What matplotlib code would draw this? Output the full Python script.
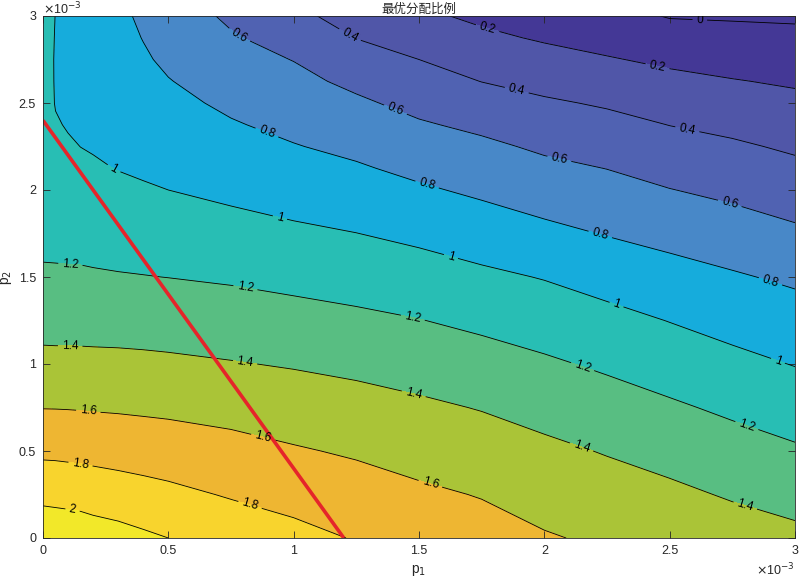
import numpy as np
import matplotlib
matplotlib.use("Agg")
import matplotlib.pyplot as plt

plt.rcParams["font.family"] = ["Liberation Sans", "Noto Sans CJK SC", "DejaVu Sans"]

# grid nodes, both axes in units of 1e-3
p1_nodes = [0, 0.05, 0.1, 0.15, 0.2, 0.3, 0.4, 0.5, 0.75, 1.0, 1.25, 1.5, 1.75, 2.0, 2.25, 2.5, 2.75, 3.0]
p2_nodes = [0, 0.25, 0.5, 0.75, 1.0, 1.25, 1.5, 1.75, 2.0, 2.125, 2.25, 2.375, 2.5, 2.625, 2.75, 2.875, 3.0]

# optimal allocation ratio (rows: p2, columns: p1)
ratio = [
    [2.15, 2.14, 2.13, 2.12, 2.095, 2.07, 2.033, 2.00, 1.92, 1.856, 1.789, 1.731, 1.674, 1.616, 1.57, 1.528, 1.486, 1.444],
    [1.947, 1.94, 1.933, 1.924, 1.913, 1.89, 1.867, 1.844, 1.785, 1.736, 1.684, 1.632, 1.591, 1.527, 1.48, 1.438, 1.383, 1.334],
    [1.762, 1.76, 1.754, 1.748, 1.74, 1.727, 1.713, 1.70, 1.662, 1.617, 1.578, 1.532, 1.491, 1.439, 1.389, 1.336, 1.277, 1.223],
    [1.595, 1.594, 1.592, 1.589, 1.585, 1.579, 1.571, 1.563, 1.537, 1.501, 1.47, 1.432, 1.391, 1.338, 1.282, 1.226, 1.167, 1.109],
    [1.452, 1.45, 1.45, 1.449, 1.447, 1.445, 1.439, 1.432, 1.41, 1.386, 1.357, 1.321, 1.277, 1.227, 1.172, 1.112, 1.05, 0.993],
    [1.332, 1.331, 1.331, 1.33, 1.328, 1.324, 1.32, 1.313, 1.293, 1.267, 1.238, 1.205, 1.16, 1.111, 1.056, 0.995, 0.935, 0.884],
    [1.226, 1.225, 1.223, 1.222, 1.218, 1.211, 1.205, 1.198, 1.178, 1.149, 1.12, 1.084, 1.037, 0.991, 0.928, 0.871, 0.82, 0.768],
    [1.15, 1.147, 1.145, 1.143, 1.135, 1.122, 1.11, 1.099, 1.067, 1.033, 1.002, 0.959, 0.904, 0.846, 0.791, 0.742, 0.691, 0.632],
    [1.12, 1.085, 1.075, 1.071, 1.058, 1.035, 1.015, 1.0, 0.961, 0.92, 0.88, 0.824, 0.768, 0.708, 0.662, 0.605, 0.558, 0.503],
    [1.105, 1.057, 1.045, 1.03, 1.018, 0.995, 0.98, 0.961, 0.91, 0.864, 0.82, 0.756, 0.701, 0.641, 0.597, 0.536, 0.492, 0.438],
    [1.09, 1.035, 1.016, 0.999, 0.989, 0.969, 0.946, 0.922, 0.864, 0.809, 0.757, 0.687, 0.637, 0.571, 0.526, 0.467, 0.426, 0.374],
    [1.08, 1.012, 0.99, 0.981, 0.967, 0.939, 0.911, 0.883, 0.815, 0.755, 0.694, 0.619, 0.562, 0.497, 0.454, 0.397, 0.356, 0.309],
    [1.07, 0.993, 0.978, 0.964, 0.948, 0.915, 0.883, 0.847, 0.766, 0.702, 0.63, 0.547, 0.48, 0.424, 0.38, 0.321, 0.282, 0.244],
    [1.065, 0.99, 0.971, 0.952, 0.932, 0.89, 0.85, 0.807, 0.72, 0.649, 0.558, 0.474, 0.397, 0.343, 0.297, 0.245, 0.209, 0.178],
    [1.06, 0.99, 0.966, 0.941, 0.917, 0.868, 0.82, 0.77, 0.667, 0.595, 0.476, 0.40, 0.3125, 0.26, 0.213, 0.167, 0.133, 0.111],
    [1.055, 0.994, 0.966, 0.938, 0.91, 0.852, 0.795, 0.742, 0.62, 0.517, 0.396, 0.317, 0.235, 0.181, 0.135, 0.075, 0.058, 0.043],
    [1.05, 0.998, 0.968, 0.936, 0.903, 0.836, 0.772, 0.71, 0.565, 0.44, 0.334, 0.233, 0.166, 0.112, 0.057, -0.01, -0.018, -0.025],
]

levels = [0, 0.2, 0.4, 0.6, 0.8, 1.0, 1.2, 1.4, 1.6, 1.8, 2.0]

# budget line p2 = 2.4 - 2 p1
budget_p1 = [0, 1.2]
budget_p2 = [2.4, 0]

tick_vals = [0, 0.5, 1, 1.5, 2, 2.5, 3]
tick_labels = ["0", "0.5", "1", "1.5", "2", "2.5", "3"]

# fill colour of each band (below 0, 0-0.2, ..., above 2)
band_colors = ["#443896", "#443896", "#5056A8", "#5062B2", "#4888C8", "#16ACDC",
               "#28BEB4", "#58BE82", "#AAC437", "#EEB632", "#F8D42D", "#F2E829"]

# where the inline labels sit
label_pos = [
    (2.62, 2.97),
    (1.77, 2.91), (2.45, 2.70),
    (1.22, 2.88), (1.89, 2.575), (2.57, 2.345),
    (0.77, 2.86), (1.40, 2.44), (2.06, 2.18), (2.74, 1.925),
    (0.885, 2.30), (1.53, 2.02), (2.23, 1.78), (2.90, 1.465),
    (0.28, 2.115), (0.945, 1.84), (1.63, 1.63), (2.29, 1.35), (2.93, 1.01),
    (0.108, 1.54), (0.806, 1.425), (1.476, 1.27), (2.154, 0.99), (2.81, 0.655),
    (0.108, 1.08), (0.806, 1.006), (1.476, 0.81), (2.15, 0.53), (2.8, 0.178),
    (0.18, 0.718), (0.878, 0.58), (1.544, 0.305),
    (0.148, 0.408), (0.826, 0.19),
    (0.116, 0.144),
]

fig = plt.figure(figsize=(8, 5.82), dpi=100)
ax = fig.add_axes([43 / 800, 44 / 582, 752 / 800, 522 / 582])

X, Y = np.meshgrid(p1_nodes, p2_nodes)
Z = np.array(ratio)

ax.contourf(X, Y, Z, levels=[-1] + levels + [3], colors=band_colors)
cs = ax.contour(X, Y, Z, levels=levels, colors="k", linewidths=0.6)
ax.clabel(cs, fmt="%g", fontsize=8.5, inline=True, inline_spacing=4, manual=label_pos)

ax.plot(budget_p1, budget_p2, color="#E5252A", linewidth=2.6, solid_capstyle="butt")

ax.set_xlim(0, 3)
ax.set_ylim(0, 3)
ax.set_xticks(tick_vals)
ax.set_xticklabels(tick_labels)
ax.set_yticks(tick_vals)
ax.set_yticklabels(tick_labels)
ax.tick_params(direction="in", top=True, right=True, length=5, width=0.6,
               labelsize=9, colors="#262626", pad=5)
for s in ax.spines.values():
    s.set_linewidth(0.6)
    s.set_color("#262626")

ax.set_title("最优分配比例", fontsize=9, pad=2, color="#262626",
             family=["Noto Sans CJK SC", "DejaVu Sans"])
ax.set_xlabel("p$_1$", fontsize=10, color="#262626", labelpad=4)
ax.set_ylabel("p$_2$", fontsize=10, color="#262626")
ax.yaxis.set_label_coords(-29 / 752, 0.5)

fig.text(795 / 800, 4 / 582, r"$\times$10$^{-3}$", ha="right", va="bottom",
         fontsize=9, color="#262626")
fig.text(43 / 800, 1 - 14 / 582, r"$\times$10$^{-3}$", ha="left", va="baseline",
         fontsize=9, color="#262626")

fig.savefig("out.png", dpi=100)
